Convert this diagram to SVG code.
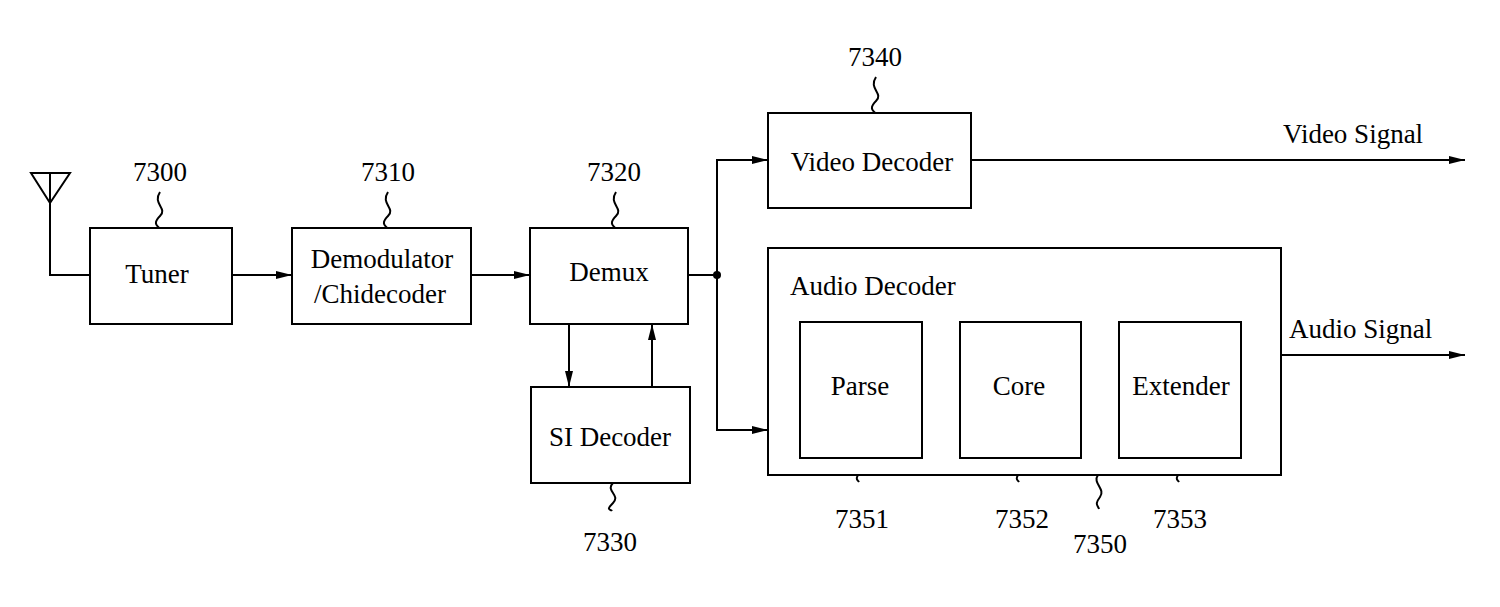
<svg xmlns="http://www.w3.org/2000/svg" width="1500" height="607" viewBox="0 0 1500 607">
<style>
.b{fill:#fff;stroke:#000;stroke-width:2}
.l{fill:none;stroke:#000;stroke-width:2}
text{font-family:"Liberation Serif",serif;font-size:27px;fill:#000}
.c{text-anchor:middle}
</style>
<defs><marker id="a" markerWidth="16" markerHeight="8" refX="16" refY="4" orient="auto" markerUnits="userSpaceOnUse"><path d="M0,0L16,4L0,8z" fill="#000"/></marker></defs>
<rect width="1500" height="607" fill="#fff"/>
<g id="connectors">
<path class="l" d="M31,173H70L50,203ZM50,173V275H90"/>
<path class="l" d="M232,275H292" marker-end="url(#a)"/>
<path class="l" d="M471,275H530" marker-end="url(#a)"/>
<path class="l" d="M688,275H717"/>
<circle cx="717" cy="275" r="4"/>
<path class="l" d="M717,275V160H768" marker-end="url(#a)"/>
<path class="l" d="M717,275V430H768" marker-end="url(#a)"/>
<path class="l" d="M569,324V387" marker-end="url(#a)"/>
<path class="l" d="M652,387V324" marker-end="url(#a)"/>
<path class="l" d="M971,160H1465" marker-end="url(#a)"/>
<path class="l" d="M1281,355H1465" marker-end="url(#a)"/>
<path class="l" d="M160,192c-8,12 8,16 0,24s-2,10 -1,12"/>
<path class="l" d="M388,192c-8,12 8,16 0,24s-2,10 -1,12"/>
<path class="l" d="M616,192c-8,12 8,16 0,24s-2,10 -1,12"/>
<path class="l" d="M876,77c-8,12 8,16 0,24s-2,10 -1,12"/>
<path class="l" d="M613,483c-8,8 8,12 0,20s-2,6 -1,8"/>
<path class="l" d="M858,450c-6,8 8,14 2,22s-2,8 -1,10"/>
<path class="l" d="M1018,450c-6,8 8,14 2,22s-2,8 -1,10"/>
<path class="l" d="M1178,450c-6,8 8,14 2,22s-2,8 -1,10"/>
<path class="l" d="M1098,475c-6,8 8,14 2,22s-2,8 -1,12"/>
</g>
<g id="tuner"><rect class="b" x="90" y="228" width="142" height="96"/><text class="c" x="157" y="283">Tuner</text><text class="c" x="160" y="181">7300</text></g>
<g id="demod"><rect class="b" x="292" y="228" width="179" height="96"/><text class="c" x="382" y="268">Demodulator</text><text class="c" x="380" y="303">/Chidecoder</text><text class="c" x="388" y="181">7310</text></g>
<g id="demux"><rect class="b" x="530" y="228" width="158" height="96"/><text class="c" x="609" y="281">Demux</text><text class="c" x="614" y="181">7320</text></g>
<g id="si"><rect class="b" x="531" y="387" width="159" height="96"/><text class="c" x="610" y="446">SI Decoder</text><text class="c" x="610" y="551">7330</text></g>
<g id="video"><rect class="b" x="768" y="113" width="203" height="95"/><text class="c" x="872" y="171">Video Decoder</text><text class="c" x="875" y="66">7340</text></g>
<g id="audio"><rect class="b" x="768" y="248" width="513" height="227"/><text x="790" y="295">Audio Decoder</text><text class="c" x="1100" y="553">7350</text></g>
<g id="parse"><rect class="b" x="800" y="322" width="122" height="136"/><text class="c" x="860" y="395">Parse</text><text class="c" x="862" y="528">7351</text></g>
<g id="core"><rect class="b" x="960" y="322" width="121" height="136"/><text class="c" x="1019" y="395">Core</text><text class="c" x="1022" y="528">7352</text></g>
<g id="ext"><rect class="b" x="1119" y="322" width="122" height="136"/><text class="c" x="1181" y="395">Extender</text><text class="c" x="1180" y="528">7353</text></g>
<g id="outs"><text x="1283" y="143">Video Signal</text><text x="1289" y="338">Audio Signal</text></g>
</svg>
